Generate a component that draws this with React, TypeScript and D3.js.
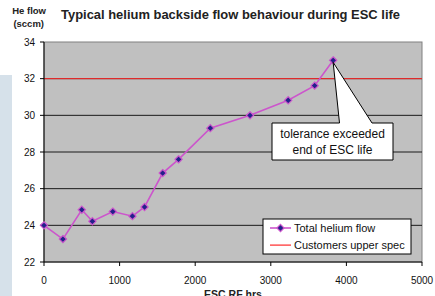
import React from "react";
import * as d3 from "d3";

const hours = [0, 250, 500, 640, 910, 1170, 1330, 1570, 1780, 2200, 2725, 3230, 3580, 3825];
const flow = [24.0, 23.25, 24.85, 24.22, 24.75, 24.5, 25.0, 26.85, 27.6, 29.3, 30.0, 30.82, 31.62, 33.0];
const specLimit = 32;
const xTicks = [0, 1000, 2000, 3000, 4000, 5000];
const yTicks = [22, 24, 26, 28, 30, 32, 34];
const title = "Typical helium backside flow behaviour during ESC life";
const seriesNames = ["Total helium flow", "Customers upper spec"];
const calloutLines = ["tolerance exceeded", "end of ESC life"];

const W = 435, H = 296;
const L = 44, R = 422, T = 42, B = 262;

export default function App() {
  const x = d3.scaleLinear().domain([0, 5000]).range([L, R]);
  const y = d3.scaleLinear().domain([22, 34]).range([B, T]);
  const line = d3.line<number>().x((_, i) => x(hours[i])).y((d) => y(d));
  const pts = flow.map((v, i) => [x(hours[i]), y(v)]);
  const tip = pts[pts.length - 1];
  const diamond = (cx: number, cy: number, r: number) =>
    `M${cx},${cy - r}L${cx + r},${cy}L${cx},${cy + r}L${cx - r},${cy}Z`;
  const font = "Liberation Sans, Arial, sans-serif";
  const lineColor = "#cc55cc";
  const markFill = "#22228a";
  const specColor = "#ff2a2a";

  return (
    <svg width={W} height={H} style={{ position: "absolute", left: 0, top: 0 }} fontFamily={font}>
      <defs>
        <clipPath id="ylabclip">
          <rect x={11} y={0} width={60} height={40} />
        </clipPath>
      </defs>
      <rect x={0} y={0} width={W} height={H} fill="#ffffff" />
      <rect x={0} y={75} width={12} height={H - 75} fill="#d6e1ea" />
      <rect x={L} y={T} width={R - L} height={B - T} fill="#c0c0c0" stroke="#808080" strokeWidth={1} />
      {yTicks.filter((t) => t > 22 && t < 34).map((t) => (
        <line key={"g" + t} x1={L} x2={R} y1={y(t)} y2={y(t)} stroke="#1a1a1a" strokeWidth={1} />
      ))}
      <line x1={L} x2={R} y1={y(specLimit)} y2={y(specLimit)} stroke={specColor} strokeWidth={1} />
      <line x1={L} x2={L} y1={T} y2={B} stroke="#000" strokeWidth={1} />
      <line x1={L} x2={R} y1={B} y2={B} stroke="#000" strokeWidth={1} />
      {yTicks.map((t) => (
        <g key={"y" + t}>
          <line x1={L - 4} x2={L} y1={y(t)} y2={y(t)} stroke="#000" />
          <text x={35} y={y(t) + 3.5} fontSize={10} textAnchor="end" fill="#111">{t}</text>
        </g>
      ))}
      {xTicks.map((t) => (
        <g key={"x" + t}>
          <line x1={x(t)} x2={x(t)} y1={B} y2={B + 4} stroke="#000" />
          <text x={x(t)} y={284} fontSize={10} textAnchor="middle" fill="#111">{t}</text>
        </g>
      ))}
      <path d={line(flow) || ""} fill="none" stroke={lineColor} strokeWidth={1.6} />
      {pts.map(([cx, cy], i) => (
        <path key={"m" + i} d={diamond(cx, cy, 3.6)} fill={markFill} stroke={lineColor} strokeWidth={1.2} />
      ))}
      {/* callout */}
      <path
        d={`M272,123L339.5,123L${tip[0]},${tip[1] + 2}L372,123L393,123L393,160L272,160Z`}
        fill="#ffffff"
        stroke="#000"
        strokeWidth={1}
      />
      {calloutLines.map((s, i) => (
        <text key={s} x={332.5} y={137.5 + i * 16} fontSize={12} textAnchor="middle" fill="#111">{s}</text>
      ))}
      {/* legend */}
      <rect x={263} y={219} width={148} height={35} fill="#ffffff" stroke="#000" strokeWidth={1} />
      <line x1={270} x2={291} y1={228} y2={228} stroke={lineColor} strokeWidth={1.6} />
      <path d={diamond(280.5, 228, 3.6)} fill={markFill} stroke={lineColor} strokeWidth={1.2} />
      <text x={294} y={231.5} fontSize={11} fill="#111">{seriesNames[0]}</text>
      <rect x={270} y={244.5} width={21} height={1.2} fill={specColor} />
      <text x={294} y={249} fontSize={11} fill="#111">{seriesNames[1]}</text>
      {/* titles */}
      <text x={61} y={19} fontSize={12.5} fontWeight="bold" fill="#222" textLength={339} lengthAdjust="spacingAndGlyphs">{title}</text>
      <g clipPath="url(#ylabclip)">
        <text x={46} y={14} fontSize={9.5} fontWeight="bold" textAnchor="end" fill="#222">He flow</text>
      </g>
      <text x={44} y={27} fontSize={9.5} fontWeight="bold" textAnchor="end" fill="#222">(sccm)</text>
      <text x={(L + R) / 2} y={298} fontSize={10.5} fontWeight="bold" textAnchor="middle" fill="#222">ESC RF hrs</text>
    </svg>
  );
}
